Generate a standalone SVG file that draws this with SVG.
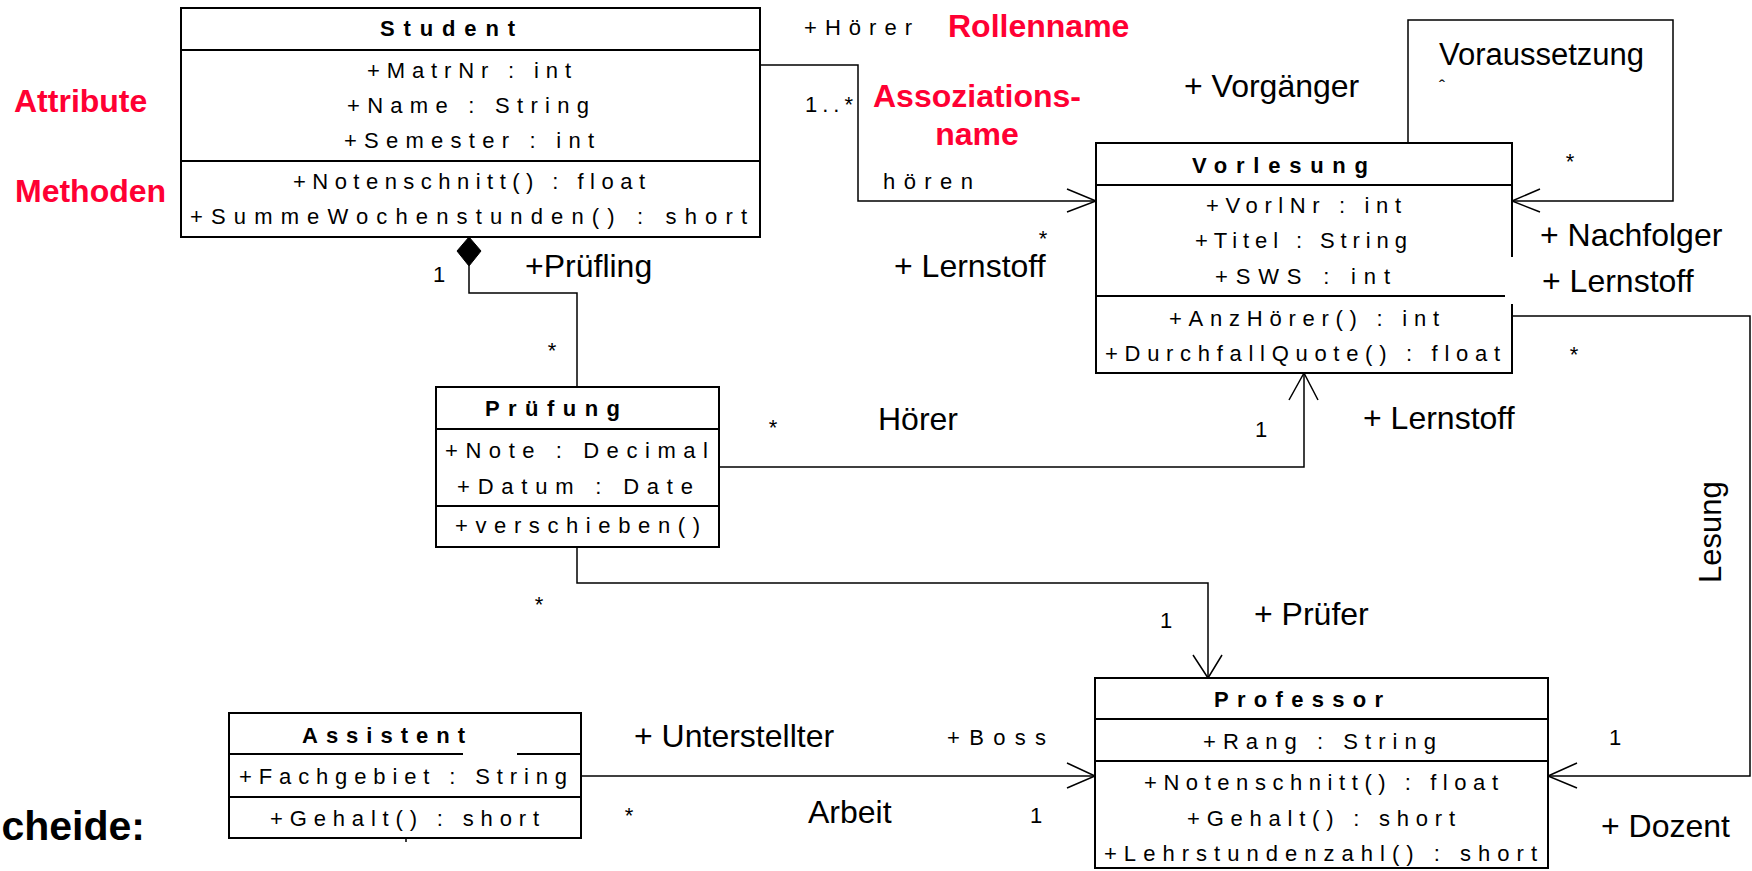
<svg xmlns="http://www.w3.org/2000/svg" width="1752" height="871" viewBox="0 0 1752 871">
<style>
  text { font-family: "Liberation Sans", Arial, sans-serif; fill: #000; }
  .box { fill: #fff; stroke: #000; stroke-width: 2; }
  .ln { fill: none; stroke: #000; stroke-width: 2; }
  .conn { fill: none; stroke: #000; stroke-width: 1.5; }
  .m { font-size: 22px; }
  .h { font-size: 22px; font-weight: bold; }
  .lbl { font-size: 32px; }
  .red { font-size: 32px; font-weight: bold; fill: #FF0033; }
  .mult { font-size: 22px; text-anchor: middle; }
</style>
<rect width="1752" height="871" fill="#fff"/>

<!-- annotation labels -->
<g id="annotations">
  <text class="red" x="14" y="112">Attribute</text>
  <text class="red" x="15" y="202">Methoden</text>
  <text class="red" x="948" y="37">Rollenname</text>
  <text class="red" x="977" y="107" text-anchor="middle">Assoziations-</text>
  <text class="red" x="977" y="145" text-anchor="middle">name</text>
  <text x="145" y="840" text-anchor="end" font-size="41" font-weight="bold">cheide:</text>
</g>

<!-- connectors -->
<g id="connectors">
  <!-- Student -> Vorlesung (hören) -->
  <path class="conn" d="M760,65 H858 V201 H1096"/>
  <path class="conn" d="M1067,189 L1096,201 L1067,212"/>
  <!-- Vorlesung self loop (Voraussetzung) -->
  <path class="conn" d="M1408,143 V20 H1673 V201 H1512"/>
  <path class="conn" d="M1540,189 L1512,201 L1540,212"/>
  <!-- Student composition Prüfung -->
  <polygon points="469,237 481,251 469,266 457,251" fill="#000" stroke="#000" stroke-width="1"/>
  <path class="conn" d="M469,266 V293 H577 V387"/>
  <!-- Prüfung -> Vorlesung (Hörer) -->
  <path class="conn" d="M719,467 H1304 V373"/>
  <path class="conn" d="M1289,400 L1304,373 L1318,400"/>
  <!-- Prüfung -> Professor -->
  <path class="conn" d="M577,547 V583 H1208 V678"/>
  <path class="conn" d="M1193,655 L1208,678 L1222,655"/>
  <!-- Vorlesung -> Professor (Lesung) -->
  <path class="conn" d="M1512,316 H1750 V776 H1548"/>
  <path class="conn" d="M1577,763 L1548,776 L1577,788"/>
  <!-- Assistent -> Professor (Arbeit) -->
  <path class="conn" d="M581,776 H1095"/>
  <path class="conn" d="M1067,763 L1095,776 L1067,788"/>
  <path class="conn" d="M406,838 V842"/>

  <!-- connector labels -->
  <text class="m" x="804" y="35" textLength="108" lengthAdjust="spacing">+Hörer</text>
  <text class="m" x="805" y="112" textLength="48" lengthAdjust="spacing">1..*</text>
  <text class="m" x="883" y="189" textLength="90" lengthAdjust="spacing">hören</text>
  <text class="lbl" x="1184" y="97">+ Vorgänger</text>
  <text x="1439" y="65" font-size="31">Voraussetzung</text>
  <text x="1442" y="93" font-size="18" text-anchor="middle">ˆ</text>
  <text class="mult" x="1570" y="169">*</text>
  <text class="lbl" x="1540" y="246">+ Nachfolger</text>
  <text class="lbl" x="1542" y="292">+ Lernstoff</text>
  <text class="mult" x="1574" y="362">*</text>
  <text class="mult" x="1043" y="246">*</text>
  <text class="lbl" x="894" y="277">+ Lernstoff</text>
  <text class="mult" x="439" y="282">1</text>
  <text class="lbl" x="525" y="277">+Prüfling</text>
  <text class="mult" x="552" y="358">*</text>
  <text class="mult" x="773" y="435">*</text>
  <text class="lbl" x="878" y="430">Hörer</text>
  <text class="mult" x="1261" y="437">1</text>
  <text class="lbl" x="1363" y="429">+ Lernstoff</text>
  <text x="0" y="0" font-size="31" transform="translate(1721,583) rotate(-90)">Lesung</text>
  <text class="mult" x="539" y="612">*</text>
  <text class="mult" x="1166" y="628">1</text>
  <text class="lbl" x="1254" y="625">+ Prüfer</text>
  <text class="mult" x="1615" y="745">1</text>
  <text class="lbl" x="1601" y="837">+ Dozent</text>
  <text class="lbl" x="634" y="747">+ Unterstellter</text>
  <text class="m" x="947" y="745" textLength="99" lengthAdjust="spacing">+Boss</text>
  <text class="mult" x="629" y="823">*</text>
  <text class="lbl" x="808" y="823">Arbeit</text>
  <text class="mult" x="1036" y="823">1</text>
</g>

<!-- Student -->
<g id="student">
  <rect class="box" x="181" y="8" width="579" height="229"/>
  <path class="ln" d="M181,50 H760 M181,161 H760"/>
  <text class="h" x="380" y="36" textLength="135" lengthAdjust="spacing">Student</text>
  <text class="m" x="367" y="78" textLength="204" lengthAdjust="spacing">+MatrNr : int</text>
  <text class="m" x="347" y="113" textLength="242" lengthAdjust="spacing">+Name : String</text>
  <text class="m" x="344" y="148" textLength="250" lengthAdjust="spacing">+Semester : int</text>
  <text class="m" x="293" y="189" textLength="352" lengthAdjust="spacing">+Notenschnitt() : float</text>
  <text class="m" x="190" y="224" textLength="557" lengthAdjust="spacing">+SummeWochenstunden() : short</text>
</g>

<!-- Vorlesung -->
<g id="vorlesung">
  <rect x="1096" y="143" width="416" height="230" fill="#fff"/>
  <path class="ln" d="M1512,257 V143 H1096 V373 H1512 V304 M1096,185 H1512 M1096,296 H1505"/>
  <text class="h" x="1192" y="173" textLength="176" lengthAdjust="spacing">Vorlesung</text>
  <text class="m" x="1206" y="213" textLength="195" lengthAdjust="spacing">+VorlNr : int</text>
  <text class="m" x="1195" y="248" textLength="212" lengthAdjust="spacing">+Titel : String</text>
  <text class="m" x="1215" y="284" textLength="175" lengthAdjust="spacing">+SWS : int</text>
  <text class="m" x="1169" y="326" textLength="270" lengthAdjust="spacing">+AnzHörer() : int</text>
  <text class="m" x="1105" y="361" textLength="395" lengthAdjust="spacing">+DurchfallQuote() : float</text>
</g>

<!-- Prüfung -->
<g id="pruefung">
  <rect class="box" x="436" y="387" width="283" height="160"/>
  <path class="ln" d="M436,429 H719 M436,506 H719"/>
  <text class="h" x="485" y="416" textLength="135" lengthAdjust="spacing">Prüfung</text>
  <text class="m" x="445" y="458" textLength="263" lengthAdjust="spacing">+Note : Decimal</text>
  <text class="m" x="457" y="494" textLength="236" lengthAdjust="spacing">+Datum : Date</text>
  <text class="m" x="455" y="533" textLength="245" lengthAdjust="spacing">+verschieben()</text>
</g>

<!-- Professor -->
<g id="professor">
  <rect class="box" x="1095" y="678" width="453" height="190"/>
  <path class="ln" d="M1095,719 H1548 M1095,761 H1548"/>
  <text class="h" x="1214" y="707" textLength="169" lengthAdjust="spacing">Professor</text>
  <text class="m" x="1203" y="749" textLength="233" lengthAdjust="spacing">+Rang : String</text>
  <text class="m" x="1144" y="790" textLength="354" lengthAdjust="spacing">+Notenschnitt() : float</text>
  <text class="m" x="1187" y="826" textLength="268" lengthAdjust="spacing">+Gehalt() : short</text>
  <text class="m" x="1104" y="861" textLength="433" lengthAdjust="spacing">+Lehrstundenzahl() : short</text>
</g>

<!-- Assistent -->
<g id="assistent">
  <rect class="box" x="229" y="713" width="352" height="125"/>
  <path class="ln" d="M229,754 H463 M517,754 H581 M229,797 H581"/>
  <text class="h" x="302" y="743" textLength="163" lengthAdjust="spacing">Assistent</text>
  <text class="m" x="239" y="784" textLength="328" lengthAdjust="spacing">+Fachgebiet : String</text>
  <text class="m" x="270" y="826" textLength="269" lengthAdjust="spacing">+Gehalt() : short</text>
</g>
</svg>
